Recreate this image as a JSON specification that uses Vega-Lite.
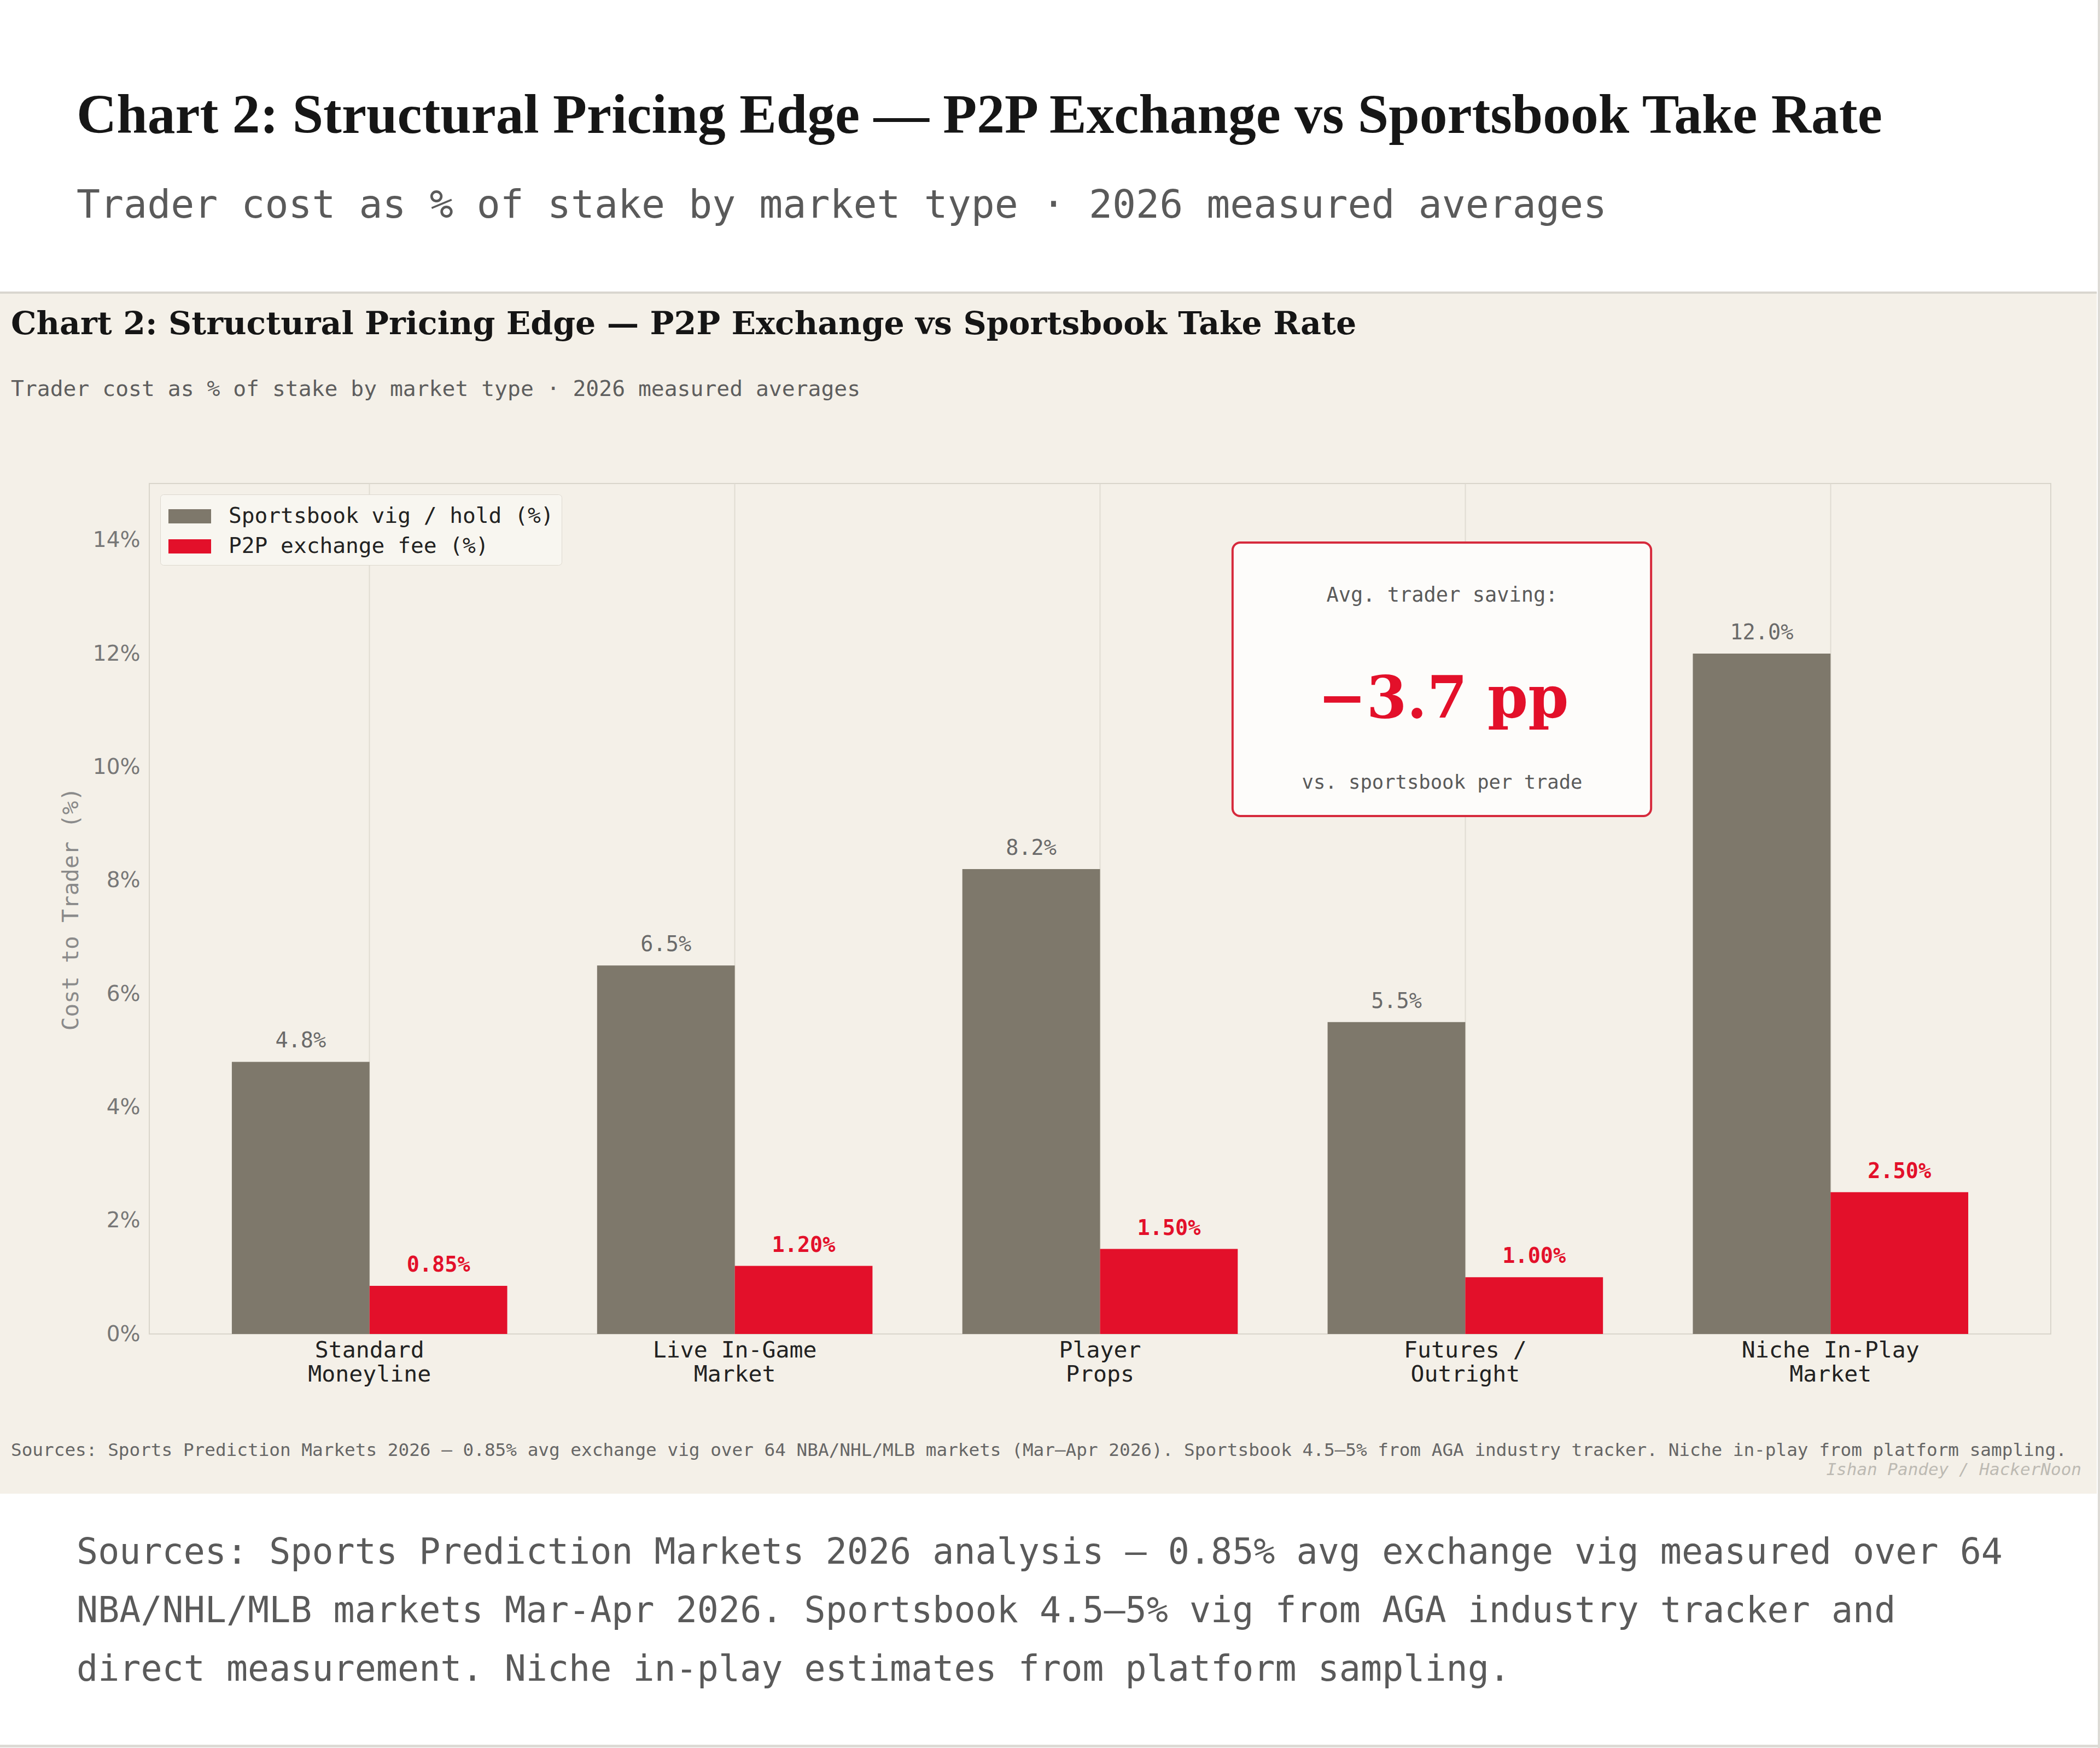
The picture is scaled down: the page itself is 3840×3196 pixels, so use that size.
{
  "$schema": "https://vega.github.io/schema/vega-lite/v6.json",
  "autosize": "none",
  "width": 3477,
  "height": 1555,
  "padding": {"left": 273, "top": 884, "right": 90, "bottom": 757},
  "background": "#f4f0e8",
  "datasets": {
    "costs": [
      {"market": "Standard\nMoneyline", "series": "Sportsbook vig / hold (%)", "value": 4.8},
      {"market": "Standard\nMoneyline", "series": "P2P exchange fee (%)", "value": 0.85},
      {"market": "Live In-Game\nMarket", "series": "Sportsbook vig / hold (%)", "value": 6.5},
      {"market": "Live In-Game\nMarket", "series": "P2P exchange fee (%)", "value": 1.2},
      {"market": "Player\nProps", "series": "Sportsbook vig / hold (%)", "value": 8.2},
      {"market": "Player\nProps", "series": "P2P exchange fee (%)", "value": 1.5},
      {"market": "Futures /\nOutright", "series": "Sportsbook vig / hold (%)", "value": 5.5},
      {"market": "Futures /\nOutright", "series": "P2P exchange fee (%)", "value": 1.0},
      {"market": "Niche In-Play\nMarket", "series": "Sportsbook vig / hold (%)", "value": 12.0},
      {"market": "Niche In-Play\nMarket", "series": "P2P exchange fee (%)", "value": 2.5}
    ]
  },
  "layer": [
    {
      "description": "White page header band",
      "data": {"values": [{}]},
      "mark": {"type": "rect", "fill": "#ffffff"},
      "encoding": {
        "x": {"datum": -0.1, "type": "quantitative", "scale": {"domain": [0, 1], "nice": false, "zero": false}, "axis": null},
        "x2": {"datum": 1.1},
        "y": {"datum": 1.6, "type": "quantitative", "scale": {"domain": [0, 1], "nice": false, "zero": false}, "axis": null},
        "y2": {"datum": 1.2244}
      }
    },
    {
      "description": "White page footer band",
      "data": {"values": [{}]},
      "mark": {"type": "rect", "fill": "#ffffff"},
      "encoding": {
        "x": {"datum": -0.1, "type": "quantitative", "scale": {"domain": [0, 1], "nice": false, "zero": false}, "axis": null},
        "x2": {"datum": 1.1},
        "y": {"datum": -0.1878, "type": "quantitative", "scale": {"domain": [0, 1], "nice": false, "zero": false}, "axis": null},
        "y2": {"datum": -0.6}
      }
    },
    {
      "description": "White sliver right of the chart card",
      "data": {"values": [{}]},
      "mark": {"type": "rect", "fill": "#ffffff"},
      "encoding": {
        "x": {"datum": 1.0242, "type": "quantitative", "scale": {"domain": [0, 1], "nice": false, "zero": false}, "axis": null},
        "x2": {"datum": 1.1},
        "y": {"datum": 1.3, "type": "quantitative", "scale": {"domain": [0, 1], "nice": false, "zero": false}, "axis": null},
        "y2": {"datum": -0.3}
      }
    },
    {
      "description": "Separator above the chart card",
      "data": {"values": [{}]},
      "mark": {"type": "rule", "color": "#d9d6cf", "strokeWidth": 4},
      "encoding": {
        "x": {"datum": -0.1, "type": "quantitative", "scale": {"domain": [0, 1], "nice": false, "zero": false}, "axis": null},
        "x2": {"datum": 1.0242},
        "y": {"datum": 1.2244, "type": "quantitative", "scale": {"domain": [0, 1], "nice": false, "zero": false}, "axis": null}
      }
    },
    {
      "description": "Page edge on the right",
      "data": {"values": [{}]},
      "mark": {"type": "rule", "color": "#dcdad5", "strokeWidth": 4},
      "encoding": {
        "x": {"datum": 1.0253, "type": "quantitative", "scale": {"domain": [0, 1], "nice": false, "zero": false}, "axis": null},
        "y": {"datum": 1.6, "type": "quantitative", "scale": {"domain": [0, 1], "nice": false, "zero": false}, "axis": null},
        "y2": {"datum": -0.6}
      }
    },
    {
      "description": "Page edge at the bottom",
      "data": {"values": [{}]},
      "mark": {"type": "rule", "color": "#dcdad5", "strokeWidth": 5},
      "encoding": {
        "x": {"datum": -0.1, "type": "quantitative", "scale": {"domain": [0, 1], "nice": false, "zero": false}, "axis": null},
        "x2": {"datum": 1.1},
        "y": {"datum": -0.4845, "type": "quantitative", "scale": {"domain": [0, 1], "nice": false, "zero": false}, "axis": null}
      }
    },
    {
      "description": "Page heading",
      "data": {"values": [{}]},
      "mark": {"type": "text", "text": "Chart 2: Structural Pricing Edge — P2P Exchange vs Sportsbook Take Rate", "font": "Liberation Serif", "fontWeight": "bold", "fontSize": 101.5, "color": "#161616", "align": "left", "baseline": "alphabetic"},
      "encoding": {
        "x": {"datum": -0.03825, "type": "quantitative", "scale": {"domain": [0, 1], "nice": false, "zero": false}, "axis": null},
        "y": {"datum": 1.4122, "type": "quantitative", "scale": {"domain": [0, 1], "nice": false, "zero": false}, "axis": null}
      }
    },
    {
      "description": "Page subheading",
      "data": {"values": [{}]},
      "mark": {"type": "text", "text": "Trader cost as % of stake by market type · 2026 measured averages", "font": "DejaVu Sans Mono", "fontSize": 71.5, "color": "#5a5a5a", "align": "left", "baseline": "alphabetic"},
      "encoding": {
        "x": {"datum": -0.03825, "type": "quantitative", "scale": {"domain": [0, 1], "nice": false, "zero": false}, "axis": null},
        "y": {"datum": 1.3125, "type": "quantitative", "scale": {"domain": [0, 1], "nice": false, "zero": false}, "axis": null}
      }
    },
    {
      "description": "Chart card title",
      "data": {"values": [{}]},
      "mark": {"type": "text", "text": "Chart 2: Structural Pricing Edge — P2P Exchange vs Sportsbook Take Rate", "font": "DejaVu Serif", "fontWeight": "bold", "fontSize": 58.5, "color": "#151515", "align": "left", "baseline": "alphabetic"},
      "encoding": {
        "x": {"datum": -0.07276, "type": "quantitative", "scale": {"domain": [0, 1], "nice": false, "zero": false}, "axis": null},
        "y": {"datum": 1.1756, "type": "quantitative", "scale": {"domain": [0, 1], "nice": false, "zero": false}, "axis": null}
      }
    },
    {
      "description": "Chart card subtitle",
      "data": {"values": [{}]},
      "mark": {"type": "text", "text": "Trader cost as % of stake by market type · 2026 measured averages", "font": "DejaVu Sans Mono", "fontSize": 39.7, "color": "#5e5e5e", "align": "left", "baseline": "alphabetic"},
      "encoding": {
        "x": {"datum": -0.07276, "type": "quantitative", "scale": {"domain": [0, 1], "nice": false, "zero": false}, "axis": null},
        "y": {"datum": 1.1029, "type": "quantitative", "scale": {"domain": [0, 1], "nice": false, "zero": false}, "axis": null}
      }
    },
    {
      "description": "Chart card source note",
      "data": {"values": [{}]},
      "mark": {"type": "text", "text": "Sources: Sports Prediction Markets 2026 — 0.85% avg exchange vig over 64 NBA/NHL/MLB markets (Mar–Apr 2026). Sportsbook 4.5–5% from AGA industry tracker. Niche in-play from platform sampling.", "font": "DejaVu Sans Mono", "fontSize": 32.7, "color": "#666666", "align": "left", "baseline": "alphabetic"},
      "encoding": {
        "x": {"datum": -0.07276, "type": "quantitative", "scale": {"domain": [0, 1], "nice": false, "zero": false}, "axis": null},
        "y": {"datum": -0.1434, "type": "quantitative", "scale": {"domain": [0, 1], "nice": false, "zero": false}, "axis": null}
      }
    },
    {
      "description": "Byline",
      "data": {"values": [{}]},
      "mark": {"type": "text", "text": "Ishan Pandey / HackerNoon", "font": "DejaVu Sans Mono", "fontStyle": "italic", "fontSize": 31, "color": "#bdbab3", "align": "right", "baseline": "alphabetic"},
      "encoding": {
        "x": {"datum": 1.0161, "type": "quantitative", "scale": {"domain": [0, 1], "nice": false, "zero": false}, "axis": null},
        "y": {"datum": -0.1659, "type": "quantitative", "scale": {"domain": [0, 1], "nice": false, "zero": false}, "axis": null}
      }
    },
    {
      "description": "Page source paragraph",
      "data": {"values": [{}]},
      "mark": {"type": "text", "text": ["Sources: Sports Prediction Markets 2026 analysis — 0.85% avg exchange vig measured over 64", "NBA/NHL/MLB markets Mar-Apr 2026. Sportsbook 4.5–5% vig from AGA industry tracker and", "direct measurement. Niche in-play estimates from platform sampling."], "lineHeight": 107, "font": "DejaVu Sans Mono", "fontSize": 65, "color": "#5a5a5a", "align": "left", "baseline": "alphabetic"},
      "encoding": {
        "x": {"datum": -0.03825, "type": "quantitative", "scale": {"domain": [0, 1], "nice": false, "zero": false}, "axis": null},
        "y": {"datum": -0.2701, "type": "quantitative", "scale": {"domain": [0, 1], "nice": false, "zero": false}, "axis": null}
      }
    },
    {
      "description": "Grouped bars with value labels",
      "data": {"name": "costs"},
      "encoding": {
        "x": {
          "field": "market",
          "type": "nominal",
          "sort": null,
          "title": null,
          "scale": {"paddingInner": 0.246, "paddingOuter": 0.226},
          "axis": {
            "labelExpr": "split(datum.label, '\\n')",
            "labelAngle": 0,
            "labelFont": "DejaVu Sans Mono",
            "labelFontSize": 41.5,
            "labelColor": "#222222",
            "labelLineHeight": 44,
            "labelPadding": 9,
            "labelLimit": 1000,
            "ticks": false,
            "domain": false,
            "grid": true,
            "gridColor": "#e0dcd2",
            "gridWidth": 2,
            "bandPosition": 0.5
          }
        },
        "xOffset": {"field": "series", "type": "nominal", "sort": ["Sportsbook vig / hold (%)", "P2P exchange fee (%)"]},
        "y": {
          "field": "value",
          "type": "quantitative",
          "title": "Cost to Trader (%)",
          "scale": {"domain": [0, 15], "nice": false, "zero": true},
          "axis": {
            "values": [0, 2, 4, 6, 8, 10, 12, 14],
            "labelExpr": "datum.value + '%'",
            "grid": false,
            "ticks": false,
            "domain": false,
            "labelFont": "DejaVu Sans",
            "labelFontSize": 39,
            "labelColor": "#777777",
            "labelPadding": 17,
            "titleFont": "DejaVu Sans Mono",
            "titleFontSize": 41,
            "titleFontWeight": "normal",
            "titleColor": "#8a8a8a",
            "titlePadding": 18
          }
        }
      },
      "layer": [
        {
          "mark": {"type": "bar"},
          "encoding": {
            "color": {
              "field": "series",
              "type": "nominal",
              "scale": {"domain": ["Sportsbook vig / hold (%)", "P2P exchange fee (%)"], "range": ["#7e786b", "#e3102a"]},
              "legend": {
                "title": null,
                "orient": "top-left",
                "offset": 20,
                "fillColor": "#f8f6f0",
                "strokeColor": "#dcd8cf",
                "cornerRadius": 6,
                "padding": 14,
                "rowPadding": 9,
                "symbolType": "M-1.5,-0.5H1.5V0.5H-1.5Z",
                "symbolSize": 2704,
                "symbolStrokeWidth": 0,
                "symbolOpacity": 1,
                "symbolOffset": 14,
                "labelOffset": 45,
                "labelFont": "DejaVu Sans Mono",
                "labelFontSize": 39.5,
                "labelColor": "#222222",
                "labelLimit": 1000
              }
            }
          }
        },
        {
          "transform": [
            {"filter": "datum.series == 'Sportsbook vig / hold (%)'"},
            {"calculate": "format(datum.value, '.1f') + '%'", "as": "label"}
          ],
          "mark": {"type": "text", "font": "DejaVu Sans Mono", "fontSize": 38.5, "color": "#6a6a6a", "baseline": "alphabetic", "dy": -26},
          "encoding": {"text": {"field": "label"}}
        },
        {
          "transform": [
            {"filter": "datum.series == 'P2P exchange fee (%)'"},
            {"calculate": "format(datum.value, '.2f') + '%'", "as": "label"}
          ],
          "mark": {"type": "text", "font": "DejaVu Sans Mono", "fontWeight": "bold", "fontSize": 38.5, "color": "#e3102a", "baseline": "alphabetic", "dy": -26},
          "encoding": {"text": {"field": "label"}}
        }
      ]
    },
    {
      "description": "Savings callout card",
      "data": {"values": [{}]},
      "mark": {"type": "rect", "cornerRadius": 14, "fill": "#fdfcfa", "stroke": "#d62a3c", "strokeWidth": 4},
      "encoding": {
        "x": {"datum": 0.5697, "type": "quantitative", "scale": {"domain": [0, 1], "nice": false, "zero": false}, "axis": null},
        "x2": {"datum": 0.7898},
        "y": {"datum": 0.9305, "type": "quantitative", "scale": {"domain": [0, 1], "nice": false, "zero": false}, "axis": null},
        "y2": {"datum": 0.609}
      }
    },
    {
      "data": {"values": [{}]},
      "mark": {"type": "text", "text": "Avg. trader saving:", "font": "DejaVu Sans Mono", "fontSize": 37, "color": "#5a5a5a", "align": "center", "baseline": "middle"},
      "encoding": {
        "x": {"datum": 0.6799, "type": "quantitative", "scale": {"domain": [0, 1], "nice": false, "zero": false}, "axis": null},
        "y": {"datum": 0.8682, "type": "quantitative", "scale": {"domain": [0, 1], "nice": false, "zero": false}, "axis": null}
      }
    },
    {
      "data": {"values": [{}]},
      "mark": {"type": "text", "text": "−3.7 pp", "font": "DejaVu Serif", "fontWeight": "bold", "fontSize": 106, "color": "#e3102a", "align": "center", "baseline": "alphabetic"},
      "encoding": {
        "x": {"datum": 0.6805, "type": "quantitative", "scale": {"domain": [0, 1], "nice": false, "zero": false}, "axis": null},
        "y": {"datum": 0.7248, "type": "quantitative", "scale": {"domain": [0, 1], "nice": false, "zero": false}, "axis": null}
      }
    },
    {
      "data": {"values": [{}]},
      "mark": {"type": "text", "text": "vs. sportsbook per trade", "font": "DejaVu Sans Mono", "fontSize": 35.5, "color": "#5a5a5a", "align": "center", "baseline": "middle"},
      "encoding": {
        "x": {"datum": 0.6799, "type": "quantitative", "scale": {"domain": [0, 1], "nice": false, "zero": false}, "axis": null},
        "y": {"datum": 0.6482, "type": "quantitative", "scale": {"domain": [0, 1], "nice": false, "zero": false}, "axis": null}
      }
    }
  ],
  "resolve": {"scale": {"x": "independent", "y": "independent"}},
  "config": {
    "view": {"stroke": "#d9d5cb", "strokeWidth": 2},
    "font": "DejaVu Sans Mono"
  }
}
